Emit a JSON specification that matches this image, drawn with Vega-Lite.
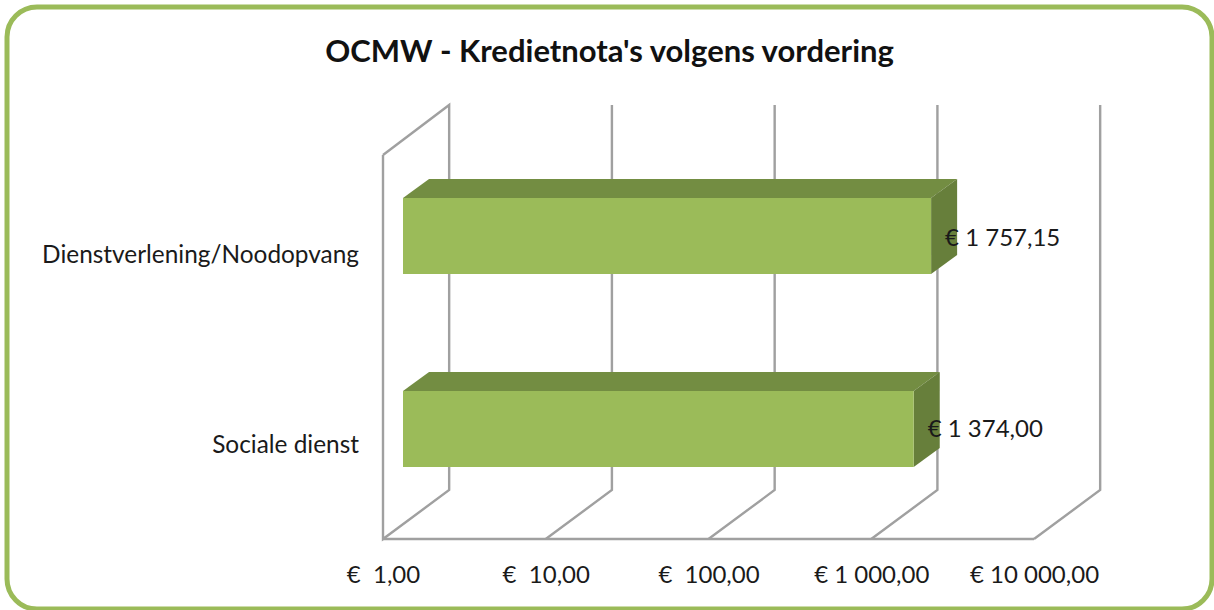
{"$schema":"https://vega.github.io/schema/vega-lite/v6.json","width":1205,"height":602,"padding":{"left":7,"top":7,"right":2,"bottom":1},"autosize":{"type":"none"},"background":"white","config":{"view":{"stroke":"#9BBB59","strokeWidth":5,"cornerRadius":30,"fill":"white"},"font":"Lato"},"title":{"text":"OCMW - Kredietnota's volgens vordering","anchor":"middle","frame":"group","font":"Lato","fontSize":31,"fontWeight":"bold","color":"#111111","offset":-62},"datasets":{"grid":[{"g":"a","o":1,"x":1,"h":384},{"g":"a","o":2,"x":2.55,"h":434},{"g":"a","o":3,"x":2.55,"h":49},{"g":"a","o":4,"x":1,"h":0},{"g":"a","o":5,"x":1,"h":384},{"g":"b","o":1,"x":10,"h":0},{"g":"b","o":2,"x":25.5,"h":49},{"g":"b","o":3,"x":25.5,"h":434},{"g":"c","o":1,"x":100,"h":0},{"g":"c","o":2,"x":255,"h":49},{"g":"c","o":3,"x":255,"h":434},{"g":"d","o":1,"x":1000,"h":0},{"g":"d","o":2,"x":2550,"h":49},{"g":"d","o":3,"x":2550,"h":434},{"g":"e","o":1,"x":10000,"h":0},{"g":"e","o":2,"x":25500,"h":49},{"g":"e","o":3,"x":25500,"h":434},{"g":"f","o":1,"x":1,"h":0},{"g":"f","o":2,"x":10000,"h":0}],"faces":[{"c":"Dienstverlening/Noodopvang","face":"top","x":1.327,"lo":341,"hi":341},{"c":"Dienstverlening/Noodopvang","face":"top","x":1.918,"lo":341,"hi":360},{"c":"Dienstverlening/Noodopvang","face":"top","x":2332,"lo":341,"hi":360},{"c":"Dienstverlening/Noodopvang","face":"top","x":3370,"lo":360,"hi":360},{"c":"Dienstverlening/Noodopvang","face":"side","x":2332,"lo":265,"hi":341},{"c":"Dienstverlening/Noodopvang","face":"side","x":3370,"lo":284,"hi":360},{"c":"Dienstverlening/Noodopvang","face":"front","x":1.327,"lo":265,"hi":341},{"c":"Dienstverlening/Noodopvang","face":"front","x":2332,"lo":265,"hi":341},{"c":"Sociale dienst","face":"top","x":1.327,"lo":148,"hi":148},{"c":"Sociale dienst","face":"top","x":1.918,"lo":148,"hi":167},{"c":"Sociale dienst","face":"top","x":1823,"lo":148,"hi":167},{"c":"Sociale dienst","face":"top","x":2635,"lo":167,"hi":167},{"c":"Sociale dienst","face":"side","x":1823,"lo":72,"hi":148},{"c":"Sociale dienst","face":"side","x":2635,"lo":91,"hi":167},{"c":"Sociale dienst","face":"front","x":1.327,"lo":72,"hi":148},{"c":"Sociale dienst","face":"front","x":1823,"lo":72,"hi":148}],"labels":[{"c":"Dienstverlening/Noodopvang","value":1757.15,"text":"€ 1 757,15","x":2332,"h":300,"one":1,"ch":283},{"c":"Sociale dienst","value":1374,"text":"€ 1 374,00","x":1823,"h":109,"one":1,"ch":93}]},"layer":[{"data":{"name":"grid"},"mark":{"type":"line","stroke":"#A0A0A0","strokeWidth":2.4,"strokeJoin":"miter"},"encoding":{"x":{"field":"x","type":"quantitative","scale":{"type":"log","domain":[1,10000],"range":[376,1027],"nice":false},"axis":{"values":[1,10,100,1000,10000],"grid":false,"domain":false,"ticks":false,"title":null,"offset":-48,"labelFont":"Lato","labelFontSize":24,"labelColor":"#1a1a1a","labelOverlap":false,"labelFlush":false,"labelBound":false,"labelExpr":"datum.value==1?'€\u00a0 1,00':datum.value==10?'€\u00a0 10,00':datum.value==100?'€\u00a0 100,00':datum.value==1000?'€ 1\u00a0000,00':'€ 10\u00a0000,00'"}},"y":{"field":"h","type":"quantitative","scale":{"domain":[0,532],"range":[532,0],"nice":false},"axis":null},"detail":{"field":"g"},"order":{"field":"o"}}},{"data":{"name":"faces"},"mark":{"type":"area","orient":"vertical","strokeWidth":0},"encoding":{"x":{"field":"x","type":"quantitative"},"y":{"field":"hi","type":"quantitative"},"y2":{"field":"lo"},"detail":{"field":"c"},"color":{"field":"face","type":"nominal","legend":null,"scale":{"domain":["front","top","side"],"range":["#9BBB59","#738D42","#677F3B"]}}}},{"data":{"name":"labels"},"mark":{"type":"text","align":"left","baseline":"middle","dx":14,"fontSize":24,"font":"Lato","color":"#1a1a1a"},"encoding":{"x":{"field":"x","type":"quantitative"},"y":{"field":"h","type":"quantitative"},"text":{"field":"text"}}},{"data":{"name":"labels"},"mark":{"type":"text","align":"right","baseline":"middle","dx":-24,"fontSize":24.4,"font":"Lato","color":"#1a1a1a"},"encoding":{"x":{"field":"one","type":"quantitative"},"y":{"field":"ch","type":"quantitative"},"text":{"field":"c"}}}]}
